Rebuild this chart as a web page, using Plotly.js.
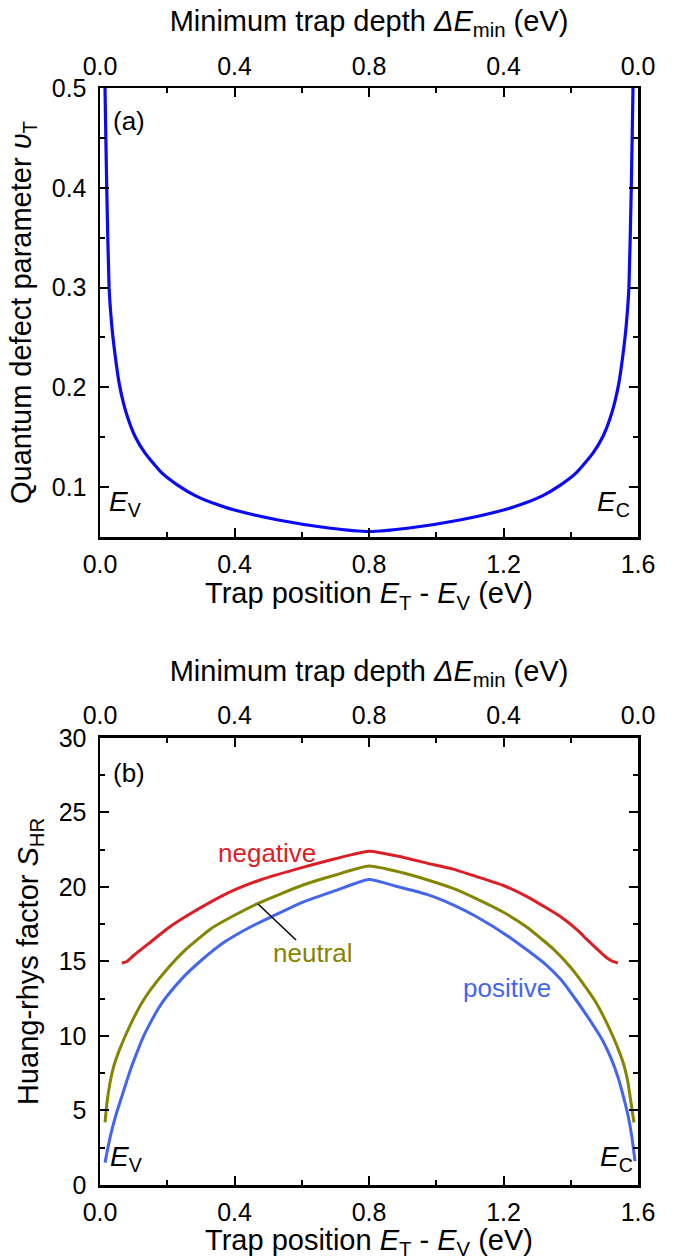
<!DOCTYPE html>
<html><head><meta charset="utf-8">
<script src="https://cdn.plot.ly/plotly-3.0.1.min.js"></script>
<style>html,body{margin:0;padding:0;background:#fff}</style>
</head><body><div id="chart" style="width:675px;height:1260px"></div>
<script>
// ---- data ----
const bottomTickLabels = ['0.0','0.4','0.8','1.2','1.6'];
const topTickLabels = ['0.0','0.4','0.8','0.4','0.0'];
const tickPositions = [0, 0.4, 0.8, 1.2, 1.6];

// (a) quantum defect parameter vs trap position
const trapPosA = [0.013,0.015,0.020,0.027,0.035,0.045,0.057,0.070,0.084,0.104,0.134,0.183,0.233,0.283,0.34,0.40,0.53,0.68,0.80,
                  0.92,1.07,1.20,1.26,1.317,1.367,1.417,1.466,1.496,1.516,1.530,1.543,1.555,1.565,1.573,1.580,1.585,1.587];
const nuT = [0.55,0.498,0.40,0.30,0.262,0.232,0.204,0.184,0.168,0.151,0.134,0.1145,0.1015,0.0915,0.0835,0.077,0.067,0.059,0.0555,
             0.059,0.067,0.077,0.0835,0.0915,0.1015,0.1145,0.134,0.151,0.168,0.184,0.204,0.232,0.262,0.30,0.40,0.498,0.55];

// (b) Huang-Rhys factor
const trapPosNeg = [0.065,0.08,0.10,0.15,0.20,0.25,0.33,0.40,0.48,0.60,0.70,0.80,
                    0.90,0.972,1.05,1.12,1.20,1.27,1.37,1.42,1.447,1.48,1.507,1.525,1.54];
const sNegative  = [14.9,15.0,15.4,16.3,17.2,17.95,19.0,19.8,20.5,21.3,21.9,22.4,
                    22.0,21.6,21.2,20.7,20.1,19.35,18.0,17.1,16.5,15.8,15.25,15.0,14.9];

const trapPosNeu = [0.015,0.020,0.030,0.040,0.055,0.075,0.10,0.125,0.15,0.20,0.25,0.33,0.40,0.47,0.60,0.70,0.80,
                    0.90,0.97,1.05,1.12,1.20,1.27,1.35,1.40,1.45,1.475,1.50,1.525,1.545,1.56,1.57,1.58,1.588];
const sNeutral   = [4.2,5.4,6.9,7.9,8.9,10.0,11.2,12.25,13.1,14.5,15.7,17.2,18.1,18.9,20.1,20.8,21.4,
                    20.95,20.5,19.9,19.2,18.3,17.3,15.8,14.6,13.1,12.25,11.2,10.0,8.9,7.9,6.9,5.4,4.2];

const trapPosPos = [0.015,0.020,0.030,0.040,0.05,0.07,0.09,0.11,0.13,0.15,0.175,0.20,0.25,0.30,0.37,0.45,0.51,0.60,0.70,0.80,
                    0.88,0.972,1.05,1.12,1.22,1.32,1.37,1.41,1.45,1.487,1.497,1.52,1.541,1.557,1.571,1.582,1.591];
const sPositive  = [1.5,2.1,3.2,4.1,4.9,6.3,7.7,8.9,10.0,10.9,11.9,12.7,14.0,15.05,16.3,17.35,18.0,18.95,19.75,20.5,
                    20.05,19.5,18.8,18.0,16.6,14.9,13.8,12.6,11.3,10.0,9.6,8.5,7.2,5.9,4.6,3.2,1.6];

// ---- styling ----
const F = 'Liberation Sans, Arial, Helvetica, sans-serif';
const TICKF = {family:F, size:25, color:'black'};
const TITF = {family:F, size:29, color:'black'};
const MINOR = {ticks:'inside', ticklen:5, tickwidth:2, tickcolor:'black', showgrid:false};

function baseAx(extra){
  return Object.assign({
    showline:true, linecolor:'black', linewidth:2.5,
    ticks:'inside', ticklen:9, tickwidth:2, tickcolor:'black',
    showgrid:false, zeroline:false, tickfont:TICKF, automargin:false
  }, extra);
}
function xBottom(anchor){
  return baseAx({anchor:anchor, range:[0,1.6], tickmode:'array', tickvals:tickPositions, ticktext:bottomTickLabels,
    ticklabelstandoff:3,
    minor:Object.assign({tickmode:'linear', tick0:0, dtick:0.2}, MINOR),
    title:{text:'Trap position <i>E</i><sub>T</sub> - <i>E</i><sub>V</sub> (eV)', font:TITF, standoff:6}});
}
function xTop(over, anchor){
  return baseAx({overlaying:over, anchor:anchor, side:'top', range:[0,1.6], tickmode:'array', tickvals:tickPositions, ticktext:topTickLabels,
    ticklabelstandoff:1,
    minor:Object.assign({tickmode:'linear', tick0:0, dtick:0.2}, MINOR),
    title:{text:'Minimum trap depth <i>ΔE</i><sub>min</sub> (eV)', font:TITF, standoff:12}});
}

const LS = 'spline', SM = 0.5;
const traces = [
  {x:trapPosA, y:nuT, xaxis:'x', yaxis:'y', mode:'lines', line:{color:'#0a0af5', width:3.2, shape:LS, smoothing:SM}},
  {x:[], y:[], xaxis:'x2', yaxis:'y', mode:'lines'},
  {x:trapPosNeg, y:sNegative, xaxis:'x3', yaxis:'y2', mode:'lines', line:{color:'#dc1e26', width:3, shape:LS, smoothing:SM}},
  {x:trapPosNeu, y:sNeutral, xaxis:'x3', yaxis:'y2', mode:'lines', line:{color:'#858500', width:3, shape:LS, smoothing:SM}},
  {x:trapPosPos, y:sPositive, xaxis:'x3', yaxis:'y2', mode:'lines', line:{color:'#4466ee', width:3, shape:LS, smoothing:SM}},
  {x:[], y:[], xaxis:'x4', yaxis:'y2', mode:'lines'}
];

function ann(xref,yref,x,y,text,color,size){
  return {xref:xref, yref:yref, x:x, y:y, text:text, showarrow:false, xanchor:'center', yanchor:'middle',
          font:{family:F, size:size, color:color}};
}

const layout = {
  width:675, height:1260, paper_bgcolor:'white', plot_bgcolor:'white', showlegend:false,
  margin:{l:100, r:37, t:88, b:75},
  xaxis: xBottom('y'),
  xaxis2: xTop('x','y'),
  yaxis: baseAx({anchor:'x', domain:[0.5907,1], range:[0.05,0.5], tickmode:'linear', tick0:0, dtick:0.1, tickformat:'.1f', mirror:'ticks',
    ticklabelstandoff:6,
    minor:Object.assign({dtick:0.05}, MINOR),
    title:{text:'Quantum defect parameter <i>υ</i><sub>T</sub>', font:TITF, standoff:12}}),
  xaxis3: xBottom('y2'),
  xaxis4: xTop('x3','y2'),
  yaxis2: baseAx({anchor:'x3', domain:[0,0.4075], range:[0,30], tickmode:'linear', tick0:0, dtick:5, mirror:'ticks',
    ticklabelstandoff:6,
    minor:Object.assign({dtick:2.5}, MINOR),
    title:{text:'Huang-rhys factor <i>S</i><sub>HR</sub>', font:TITF, standoff:12}}),
  annotations:[
    ann('x','y',0.086,0.467,'(a)','black',26),
    ann('x','y',0.074,0.084,'<i>E</i><sub>V</sub>','black',28),
    ann('x','y',1.526,0.084,'<i>E</i><sub>C</sub>','black',28),
    ann('x3','y2',0.086,27.65,'(b)','black',26),
    ann('x3','y2',0.077,1.81,'<i>E</i><sub>V</sub>','black',28),
    ann('x3','y2',1.535,1.81,'<i>E</i><sub>C</sub>','black',28),
    ann('x3','y2',0.497,22.3,'negative','#dc1e26',26),
    ann('x3','y2',0.633,15.57,'neutral','#858500',26),
    ann('x3','y2',1.21,13.2,'positive','#4466ee',26)
  ],
  shapes:[
    {type:'line', xref:'x3', yref:'y2', x0:0.47, y0:18.86, x1:0.583, y1:16.44, line:{color:'black', width:1.5}}
  ]
};

Plotly.newPlot('chart', traces, layout, {displayModeBar:false, staticPlot:true});
</script></body></html>
